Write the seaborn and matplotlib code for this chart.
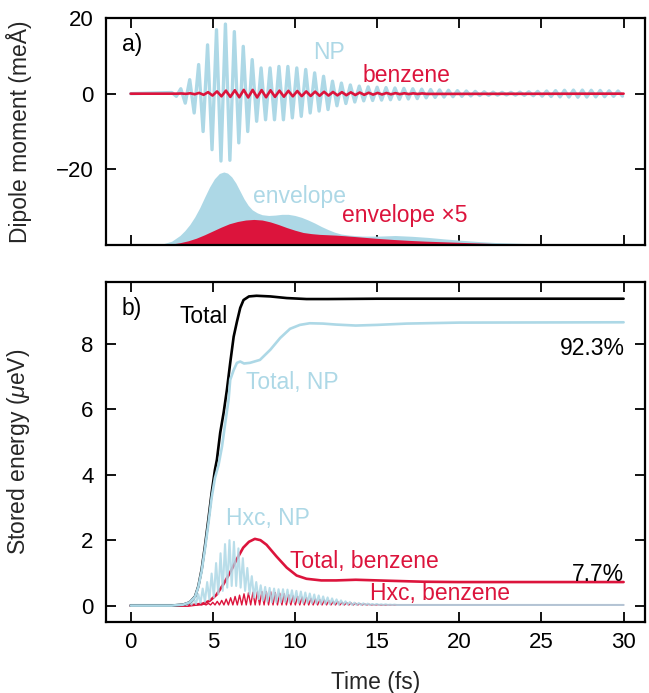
import numpy as np
import pandas as pd
import matplotlib
matplotlib.use("Agg")
import matplotlib.pyplot as plt
import seaborn as sns

# ---------------------------------------------------------------- data
LIGHT = "#add8e6"
RED = "#dc143c"

# dipole oscillation: extremum magnitudes on a half-period grid (fs)
dip_t0 = 2.51
dip_half = 0.2715
np_dip_mag = [0.3, 0.7, 1.3, 2.5, 3.7, 5.1, 7.7, 10.0, 12.9, 14.8, 16.9, 17.8,
              18.4, 17.6, 16.4, 13.0, 12.5, 10.0, 9.0, 7.3, 6.8, 6.9, 6.8, 6.9,
              7.2, 6.9, 7.2, 6.4, 6.8, 6.0, 6.4, 5.1, 5.5, 4.6, 4.6, 4.2, 3.3,
              3.2, 2.8, 2.6, 2.3, 2.2, 2.0, 1.9, 1.8, 1.8, 1.7, 1.7, 1.6, 1.6,
              1.5, 1.5, 1.4, 1.4, 1.3, 1.3, 1.2, 1.1, 1.1, 1.0, 1.0, 0.9, 0.9,
              0.8, 0.8, 0.7, 0.7, 0.6, 0.6, 0.5, 0.5, 0.45, 0.4, 0.4, 0.35,
              0.35, 0.35, 0.4, 0.4, 0.45, 0.5, 0.55, 0.6, 0.65, 0.7, 0.75, 0.8,
              0.85, 0.9, 0.9, 0.95, 0.95, 0.95, 0.9, 0.9, 0.85, 0.85, 0.8,
              0.75, 0.7, 0.7, 0.65]
bz_dip_mag = [0.0, 0.0, 0.05, 0.05, 0.1, 0.15, 0.2, 0.3, 0.4, 0.5, 0.6, 0.7,
              0.8, 0.85, 0.9, 0.95, 1.0, 1.0, 1.0, 1.0, 0.95, 0.95, 0.9, 0.85,
              0.8, 0.8, 0.75, 0.7, 0.7, 0.65, 0.6, 0.6, 0.55, 0.55, 0.5, 0.5,
              0.45, 0.45, 0.4, 0.4, 0.35, 0.35, 0.3, 0.3, 0.25, 0.25, 0.2, 0.2,
              0.18, 0.16, 0.14, 0.12, 0.1, 0.1, 0.08, 0.08, 0.06, 0.06]

# envelopes, drawn above the -40 baseline
env_np_t = [0, 1, 1.5, 2.0, 2.5, 3.0, 3.3, 3.6, 3.9, 4.2, 4.5, 4.8, 5.1, 5.4,
            5.67, 5.9, 6.15, 6.4, 6.65, 6.9, 7.15, 7.4, 7.7, 8.0, 8.4, 8.8,
            9.2, 9.6, 10.0, 10.4, 10.8, 11.2, 11.6, 12.0, 12.4, 12.8, 13.3,
            14.1, 15.1, 16.1, 17.1, 18.1, 19.1, 20.1, 21.2, 22.2, 24, 26, 28,
            30]
env_np = [0, 0.05, 0.15, 0.35, 1.0, 2.5, 3.8, 5.4, 7.4, 9.8, 12.6, 15.3, 17.5,
          18.9, 19.3, 19.0, 18.0, 16.4, 14.3, 12.2, 10.5, 9.3, 8.5, 8.0, 7.8,
          7.9, 8.1, 8.1, 7.8, 7.3, 6.6, 5.8, 4.9, 4.1, 3.4, 2.9, 2.6, 2.35,
          2.35, 2.5, 2.3, 2.0, 1.6, 1.25, 0.9, 0.65, 0.4, 0.3, 0.2, 0.15]
env_bz_t = [0, 2, 2.5, 3.0, 3.5, 4.0, 4.5, 5.0, 5.5, 6.0, 6.5, 7.0, 7.5, 8.0,
            8.5, 9.0, 9.5, 10.0, 10.5, 11.0, 11.5, 12.0, 12.5, 13.0, 14.0,
            15.0, 16.0, 17.0, 18.0, 19.0, 20.0, 21, 22, 24, 26, 28, 30]
env_bz5 = [0, 0.1, 0.25, 0.6, 1.1, 1.8, 2.7, 3.7, 4.7, 5.6, 6.2, 6.6, 6.75,
           6.6, 6.1, 5.4, 4.6, 3.9, 3.3, 3.0, 2.8, 2.7, 2.6, 2.45, 2.1, 1.75,
           1.45, 1.2, 1.0, 0.85, 0.7, 0.55, 0.4, 0.25, 0.18, 0.12, 0.1]

# stored energy (ueV)
tot_t = [0, 2.5, 3.2, 3.6, 3.92, 4.12, 4.32, 4.52, 4.73, 4.93, 5.13, 5.25,
         5.45, 5.66, 5.86, 6.06, 6.27, 6.47, 6.67, 6.87, 7.2, 7.66, 8.5, 9.5,
         10.7, 12, 15, 20, 30]
tot_all = [0, 0, 0.03, 0.1, 0.28, 0.59, 1.1, 1.81, 2.63, 3.45, 4.15, 4.46,
           5.28, 5.9, 6.6, 7.42, 8.22, 8.68, 9.1, 9.34, 9.45, 9.47, 9.45, 9.40,
           9.37, 9.37, 9.38, 9.38, 9.38]
np_t = [0, 2.5, 3.2, 3.6, 3.92, 4.12, 4.32, 4.52, 4.73, 4.93, 5.13, 5.35, 5.56,
        5.76, 5.96, 6.06, 6.27, 6.47, 6.67, 6.9, 7.26, 7.87, 8.5, 9.1, 9.7,
        10.3, 10.9, 11.7, 12.5, 13.7, 15, 16.8, 20, 30]
tot_np = [0, 0, 0.03, 0.1, 0.27, 0.57, 1.05, 1.72, 2.5, 3.3, 3.9, 4.3, 4.86,
          5.59, 6.29, 6.9, 7.2, 7.42, 7.46, 7.40, 7.42, 7.51, 7.82, 8.18, 8.46,
          8.58, 8.63, 8.62, 8.59, 8.56, 8.58, 8.62, 8.65, 8.66]
bz_t = [0, 3.5, 4.4, 4.82, 5.22, 5.63, 6.04, 6.44, 6.85, 7.2, 7.56, 7.9, 8.27,
        8.88, 9.5, 10.1, 10.7, 11.6, 12.5, 13.7, 15.7, 17.8, 19.9, 30]
tot_bz = [0, 0, 0.06, 0.15, 0.33, 0.64, 1.0, 1.4, 1.77, 1.95, 2.04, 2.0, 1.86,
          1.5, 1.16, 0.92, 0.82, 0.77, 0.77, 0.79, 0.76, 0.73, 0.72, 0.72]

# Hxc energies: maxima / minima of the fast oscillation on a half-period grid
hxc_t0 = 3.3
hxc_np_max = [0.05, 0.12, 0.22, 0.35, 0.52, 0.72, 0.98, 1.3, 1.6, 1.88, 2.0,
              1.95, 1.75, 1.45, 1.15, 0.9, 0.72, 0.62, 0.57, 0.54, 0.52, 0.5,
              0.5, 0.49, 0.47, 0.45, 0.43, 0.4, 0.37, 0.34, 0.31, 0.28, 0.25,
              0.22, 0.19, 0.16, 0.13, 0.11, 0.09, 0.08, 0.07, 0.06, 0.05, 0.05,
              0.04, 0.04, 0.03, 0.03]
hxc_np_min = [0.02, 0.03, 0.05, 0.08, 0.12, 0.18, 0.25, 0.35, 0.45, 0.55, 0.6,
              0.6, 0.55, 0.45, 0.35, 0.25, 0.2, 0.15, 0.12, 0.1, 0.1, 0.1, 0.1,
              0.1, 0.1, 0.08, 0.08, 0.08, 0.07, 0.06, 0.05, 0.05, 0.04, 0.04,
              0.03, 0.03, 0.03, 0.02, 0.02, 0.02, 0.02, 0.02, 0.02, 0.02, 0.02,
              0.02, 0.02, 0.02]
hxc_bz_max = [0.0, 0.01, 0.02, 0.03, 0.05, 0.07, 0.1, 0.13, 0.16, 0.2, 0.24,
              0.28, 0.32, 0.36, 0.39, 0.41, 0.42, 0.43, 0.43, 0.42, 0.4, 0.38,
              0.36, 0.33, 0.3, 0.28, 0.26, 0.24, 0.22, 0.2, 0.18, 0.17, 0.15,
              0.13, 0.12, 0.1, 0.09, 0.08, 0.07, 0.06, 0.05, 0.04, 0.03, 0.03]
hxc_floor = 0.02

# ---------------------------------------------------------------- helpers
def zigzag(t0, step, mags, lead=None, tail=None):
    t = t0 + step * np.arange(len(mags))
    s = (-1.0) ** np.arange(len(mags))
    tt, yy = list(t), list(s * np.asarray(mags))
    if lead is not None:
        tt = [lead[0]] + tt
        yy = [lead[1]] + yy
    if tail is not None:
        tt = tt + [tail[0]]
        yy = yy + [tail[1]]
    return pd.DataFrame({"t": tt, "v": yy})


def spikes(t0, step, maxima, minima, floor, t_end):
    t = t0 + step * np.arange(len(maxima))
    tt, yy = [0.0, t0 - step / 2], [floor, floor]
    for ti, hi, lo in zip(t, maxima, minima):
        tt += [ti, ti + step / 2]
        yy += [max(hi, floor), max(lo, floor)]
    tt.append(t_end)
    yy.append(floor)
    return pd.DataFrame({"t": tt, "v": yy})


# ---------------------------------------------------------------- style
sns.set_theme(style="ticks")
plt.rcParams["font.family"] = ["Liberation Sans", "DejaVu Sans"]
plt.rcParams["mathtext.fontset"] = "custom"
plt.rcParams["mathtext.it"] = "Liberation Sans:italic"
plt.rcParams["mathtext.rm"] = "Liberation Sans"
FS = 16.5
TS = 16

fig = plt.figure(figsize=(6.49, 6.93), dpi=100)
ax1 = fig.add_axes([0.1633, 0.6465, 0.8305, 0.3275])
ax2 = fig.add_axes([0.1633, 0.1025, 0.8305, 0.4910])

for ax in (ax1, ax2):
    for sp in ax.spines.values():
        sp.set_linewidth(1.6)
        sp.set_color("black")
    ax.tick_params(direction="in", length=7, width=1.3, top=True, right=True,
                   labelsize=TS, colors="black")
    ax.tick_params(axis="y", pad=9)
    ax.tick_params(axis="x", pad=7)
    ax.set_xlim(-1.5, 31.3)
    ax.set_xticks([0, 5, 10, 15, 20, 25, 30])

# ---------------------------------------------------------------- panel a
base = -40
ax1.fill_between(env_np_t, base, base + np.asarray(env_np), color=LIGHT, lw=0)
ax1.fill_between(env_bz_t, base, base + np.asarray(env_bz5), color=RED, lw=0)

d_np = zigzag(dip_t0, dip_half, np_dip_mag, lead=(0.0, 0.0))
d_bz = zigzag(dip_t0 + 0.03, dip_half, bz_dip_mag, lead=(0.0, 0.0),
              tail=(30.0, 0.0))
sns.lineplot(data=d_np, x="t", y="v", ax=ax1, color=LIGHT, lw=2.4,
             estimator=None, sort=False, solid_joinstyle="round")
sns.lineplot(data=d_bz, x="t", y="v", ax=ax1, color=RED, lw=1.9,
             estimator=None, sort=False, solid_joinstyle="round")

ax1.set_ylim(-40, 20)
ax1.set_yticks([-20, 0, 20])
ax1.set_xticklabels([])
ax1.set_xlabel("")
ax1.set_ylabel("Dipole moment (meÅ)", fontsize=FS)
ax1.yaxis.set_label_coords(-0.137, 0.5)

ax1.text(-0.55, 12.9, "a)", fontsize=FS, color="black", va="center")
ax1.text(12.1, 11.0, "NP", fontsize=FS, color=LIGHT, ha="center", va="center")
ax1.text(14.1, 4.7, "benzene", fontsize=FS, color=RED, va="center")
ax1.text(7.45, -27.1, "envelope", fontsize=FS, color=LIGHT, va="center")
ax1.text(12.85, -32.1, "envelope ×5", fontsize=FS, color=RED, va="center")

# ---------------------------------------------------------------- panel b
h_np = spikes(hxc_t0, dip_half, hxc_np_max, hxc_np_min, hxc_floor, 30.0)
h_bz = spikes(hxc_t0 + 0.07, dip_half, hxc_bz_max,
              [hxc_floor] * len(hxc_bz_max), hxc_floor, 30.0)

sns.lineplot(data=pd.DataFrame({"t": bz_t, "v": tot_bz}), x="t", y="v",
             ax=ax2, color=RED, lw=1.9, estimator=None)
sns.lineplot(data=h_bz, x="t", y="v", ax=ax2, color=RED, lw=1.0,
             estimator=None, sort=False)
sns.lineplot(data=h_np, x="t", y="v", ax=ax2, color=LIGHT, lw=1.5,
             estimator=None, sort=False, alpha=0.85)
sns.lineplot(data=pd.DataFrame({"t": tot_t, "v": tot_all}), x="t", y="v",
             ax=ax2, color="black", lw=1.9, estimator=None)
sns.lineplot(data=pd.DataFrame({"t": np_t, "v": tot_np}), x="t", y="v",
             ax=ax2, color=LIGHT, lw=1.9, estimator=None)

ax2.set_ylim(-0.5, 9.9)
ax2.set_yticks([0, 2, 4, 6, 8])
ax2.set_xlabel("Time (fs)", fontsize=FS)
ax2.xaxis.set_label_coords(0.5, -0.143)
ax2.set_ylabel("Stored energy ($\\mu$eV)", fontsize=FS)
ax2.yaxis.set_label_coords(-0.137, 0.5)

ax2.text(-0.55, 9.07, "b)", fontsize=FS, color="black", va="center")
ax2.text(3.0, 8.85, "Total", fontsize=FS, color="black", va="center")
ax2.text(7.0, 6.81, "Total, NP", fontsize=FS, color=LIGHT, va="center")
ax2.text(30.05, 7.85, "92.3%", fontsize=FS, color="black", ha="right",
         va="center")
ax2.text(5.8, 2.66, "Hxc, NP", fontsize=FS, color=LIGHT, va="center")
ax2.text(9.7, 1.34, "Total, benzene", fontsize=FS, color=RED, va="center")
ax2.text(30.05, 0.95, "7.7%", fontsize=FS, color="black", ha="right",
         va="center")
ax2.text(14.55, 0.37, "Hxc, benzene", fontsize=FS, color=RED, va="center")

fig.savefig("out.png", dpi=100)
